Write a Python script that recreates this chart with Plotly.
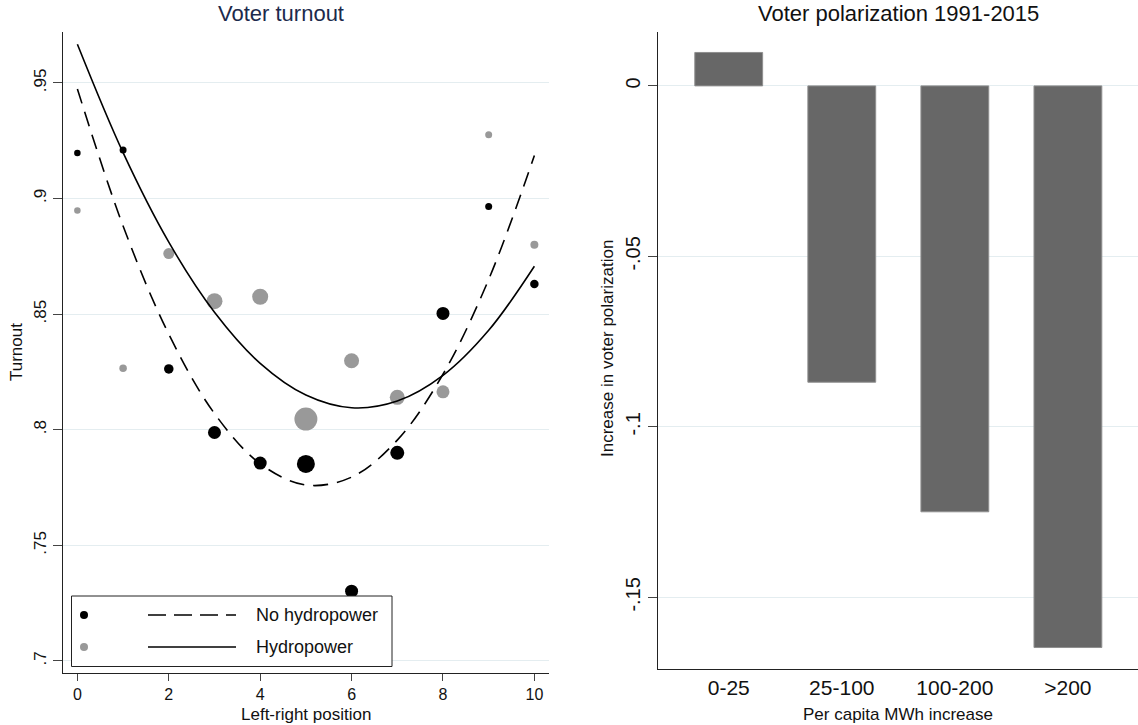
import plotly.graph_objects as go

W, H = 1138, 725

# ---------------- data ----------------
positions = [0, 1, 2, 3, 4, 5, 6, 7, 8, 9, 10]
no_hydro_turnout = [0.9197, 0.9210, 0.8263, 0.7988, 0.7856, 0.7852, 0.7302, 0.7900, 0.8503, 0.8965, 0.8630]
hydro_turnout = [0.8948, 0.8266, 0.8762, 0.8556, 0.8575, 0.8046, 0.8298, 0.8140, 0.8164, 0.9276, 0.8800]
no_hydro_weight = [6.5, 7, 9.5, 13, 13, 18, 13, 14, 13, 7, 8.5]
hydro_weight = [6.5, 7.5, 11, 16, 16, 23, 15, 15, 13, 7, 8]
fit_no_hydro = [0.9474, 0.8881, 0.8413, 0.8070, 0.7853, 0.7761, 0.7795, 0.7955, 0.8240, 0.8650, 0.9186]
fit_hydro = [0.9667, 0.9198, 0.8811, 0.8508, 0.8287, 0.8150, 0.8095, 0.8124, 0.8235, 0.8430, 0.8707]

left_yticks = [0.70, 0.75, 0.80, 0.85, 0.90, 0.95]
left_yticklabels = [".7", ".75", ".8", ".85", ".9", ".95"]
left_xticks = [0, 2, 4, 6, 8, 10]

mwh_categories = ["0-25", "25-100", "100-200", ">200"]
polarization_change = [0.0098, -0.0869, -0.1249, -0.1647]
right_yticks = [0, -0.05, -0.10, -0.15]
right_yticklabels = ["0", "-.05", "-.1", "-.15"]

legend_labels = ["No hydropower", "Hydropower"]

# ---------------- styles ----------------
FONT = "Liberation Sans, Arial, sans-serif"
BLACK = "#000000"
GRAY = "#999999"
GRID = "#e4edf0"
BAR = "#676767"


def px(x):
    return x / W


def py(y):
    return 1 - y / H


fig = go.Figure()

# left panel points
fig.add_trace(go.Scatter(x=positions, y=no_hydro_turnout, mode="markers",
                         marker=dict(color=BLACK, size=no_hydro_weight, opacity=1, line=dict(width=0)),
                         xaxis="x", yaxis="y", showlegend=False))
fig.add_trace(go.Scatter(x=positions, y=hydro_turnout, mode="markers",
                         marker=dict(color=GRAY, size=hydro_weight, opacity=1, line=dict(width=0)),
                         xaxis="x", yaxis="y", showlegend=False))
# fitted curves
fig.add_trace(go.Scatter(x=positions, y=fit_no_hydro, mode="lines", line_shape="spline",
                         line=dict(color=BLACK, width=1.6, dash="15px,9px"),
                         xaxis="x", yaxis="y", showlegend=False))
fig.add_trace(go.Scatter(x=positions, y=fit_hydro, mode="lines", line_shape="spline",
                         line=dict(color=BLACK, width=1.6),
                         xaxis="x", yaxis="y", showlegend=False))

# right panel bars
fig.add_trace(go.Bar(x=mwh_categories, y=polarization_change, width=0.6,
                     marker=dict(color=BAR, line=dict(color="#8f8f8f", width=1)),
                     xaxis="x2", yaxis="y2", showlegend=False))

line_common = dict(showline=True, linecolor="#222222", linewidth=1, mirror=False, zeroline=False)

fig.update_layout(
    width=W, height=H, autosize=False,
    margin=dict(l=0, r=0, t=0, b=0),
    paper_bgcolor="white", plot_bgcolor="white",
    font=dict(family=FONT, color="#111111"),
    xaxis=dict(domain=[63 / W, 549 / W], range=[-0.315, 10.32], tickvals=left_xticks,
               showgrid=False, anchor="y", ticks="outside", tickcolor="#444444", ticklen=7,
               tickfont=dict(family=FONT, size=16, color="#111111"), **line_common),
    yaxis=dict(domain=[py(673), py(32)], range=[0.6948, 0.972], tickvals=left_yticks,
               ticktext=left_yticklabels, tickangle=-90, showgrid=True, gridcolor=GRID,
               gridwidth=1.2, anchor="x", ticks="outside", tickcolor="#444444", ticklen=9,
               tickfont=dict(family=FONT, size=17, color="#111111"), **line_common),
    xaxis2=dict(domain=[657.5 / W, 1.0], range=[-0.63, 3.62], showgrid=False, anchor="y2",
                ticks="", tickfont=dict(family=FONT, size=21, color="#111111"), **line_common),
    yaxis2=dict(domain=[py(669), py(32)], range=[-0.171, 0.0158], tickvals=right_yticks,
                ticktext=right_yticklabels, tickangle=-90, showgrid=True, gridcolor=GRID,
                gridwidth=1.2, anchor="x2", ticks="outside", tickcolor="#444444", ticklen=9,
                tickfont=dict(family=FONT, size=20, color="#111111"), **line_common),
)

annotations = [
    dict(text="Voter turnout", x=px(281), y=py(14), font=dict(size=22, color="#1c2a4c")),
    dict(text="Voter polarization 1991-2015", x=px(898), y=py(14), font=dict(size=22, color="#111111")),
    dict(text="Turnout", x=px(17), y=py(352), textangle=-90, font=dict(size=17)),
    dict(text="Left-right position", x=px(306), y=py(714), font=dict(size=17)),
    dict(text="Increase in voter polarization", x=px(607), y=py(349), textangle=-90, font=dict(size=17)),
    dict(text="Per capita MWh increase", x=px(898), y=py(714), font=dict(size=17)),
    dict(text=legend_labels[0], x=px(254), y=py(615), xanchor="left", font=dict(size=18)),
    dict(text=legend_labels[1], x=px(254), y=py(647), xanchor="left", font=dict(size=18)),
]
for a in annotations:
    a.setdefault("xanchor", "center")
    a.update(xref="paper", yref="paper", yanchor="middle", showarrow=False)
    a["font"] = dict(family=FONT, color=a["font"].get("color", "#111111"), size=a["font"]["size"])
fig.update_layout(annotations=annotations)

# manual legend box (as in the original)
shapes = [
    dict(type="rect", x0=px(71.5), x1=px(392), y0=py(666.5), y1=py(596),
         line=dict(color="#222222", width=1), fillcolor="white", layer="above"),
    dict(type="circle", x0=px(80), x1=px(88), y0=py(619), y1=py(611),
         line=dict(width=0), fillcolor=BLACK, layer="above"),
    dict(type="circle", x0=px(80), x1=px(88), y0=py(651), y1=py(643),
         line=dict(width=0), fillcolor=GRAY, layer="above"),
    dict(type="line", x0=px(148), x1=px(236), y0=py(615), y1=py(615),
         line=dict(color=BLACK, width=1.6, dash="18px,8px"), layer="above"),
    dict(type="line", x0=px(148), x1=px(236), y0=py(647), y1=py(647),
         line=dict(color=BLACK, width=1.6), layer="above"),
]
for s in shapes:
    s.update(xref="paper", yref="paper")
fig.update_layout(shapes=shapes)

fig.write_html("out.html")
